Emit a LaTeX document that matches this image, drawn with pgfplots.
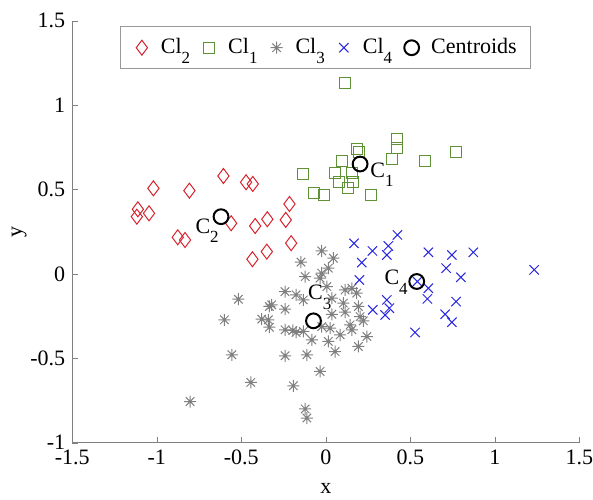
\documentclass[border=0pt]{standalone}
\usepackage{fontspec}
\setmainfont{Liberation Serif}
\usepackage{pgfplots}
\pgfplotsset{compat=1.18}
\usetikzlibrary{plotmarks}

\definecolor{clred}{RGB}{215,35,45}
\definecolor{clgreen}{RGB}{95,145,55}
\definecolor{clgray}{RGB}{128,128,128}
\definecolor{clblue}{RGB}{40,40,225}

% matlab style asterisk: plus and cross on top of each other
\pgfdeclareplotmark{mstar}{%
  \pgfpathmoveto{\pgfqpoint{-\pgfplotmarksize}{0pt}}%
  \pgfpathlineto{\pgfqpoint{\pgfplotmarksize}{0pt}}%
  \pgfpathmoveto{\pgfqpoint{0pt}{-\pgfplotmarksize}}%
  \pgfpathlineto{\pgfqpoint{0pt}{\pgfplotmarksize}}%
  \pgfpathmoveto{\pgfqpoint{-.7071\pgfplotmarksize}{-.7071\pgfplotmarksize}}%
  \pgfpathlineto{\pgfqpoint{.7071\pgfplotmarksize}{.7071\pgfplotmarksize}}%
  \pgfpathmoveto{\pgfqpoint{-.7071\pgfplotmarksize}{.7071\pgfplotmarksize}}%
  \pgfpathlineto{\pgfqpoint{.7071\pgfplotmarksize}{-.7071\pgfplotmarksize}}%
  \pgfusepathqstroke}

\newcommand{\fs}{\fontsize{11}{13}\selectfont}
\newcommand{\sub}[1]{\raisebox{-0.42em}{\fontsize{8.5}{9}\selectfont #1}}

\begin{document}
\begin{tikzpicture}
\begin{axis}[
    scale only axis, width=253.5pt, height=211pt,
    xmin=-1.5, xmax=1.5, ymin=-1, ymax=1.5,
    axis lines=left, axis line style={-, draw=black!50},
    tick style={draw=black!50}, tick align=inside, major tick length=3pt,
    xtick={-1.5,-1,-0.5,0,0.5,1,1.5},
    xticklabels={-1.5,-1,-0.5,0,0.5,1,1.5},
    ytick={-1,-0.5,0,0.5,1,1.5},
    yticklabels={-1,-0.5,0,0.5,1,1.5},
    ticklabel style={font=\fs},
    xlabel={x}, ylabel={y}, label style={font=\fs},
    xlabel shift=2.5pt, ylabel shift=-5pt,
    legend style={at={(0.5,0.987)}, anchor=north, draw=black!40,
      font=\fs, inner sep=4pt, legend columns=-1,
      nodes={inner ysep=2pt, inner xsep=3pt}},
    legend image code/.code={%
      \path (0cm,0cm) (0.44cm,0cm);
      \draw[mark repeat=2,mark phase=2,#1] plot coordinates {(0cm,0cm)(0.22cm,0cm)(0.44cm,0cm)};},
    clip=false,
  ]

  \addplot[only marks, mark=diamond, mark size=3.75pt, clred, line width=0.5pt] coordinates {
    (-1.020,0.507) (-0.807,0.493) (-0.606,0.580) (-0.472,0.543) (-0.432,0.533)
    (-1.112,0.383) (-1.118,0.339) (-1.046,0.359) (-0.215,0.414) (-0.237,0.320)
    (-0.346,0.324) (-0.418,0.284) (-0.560,0.300) (-0.876,0.217) (-0.833,0.201)
    (-0.434,0.087) (-0.349,0.132) (-0.205,0.182)
  };
  \addlegendentry{Cl\sub{2}}

  \addplot[only marks, mark=square, mark size=2.75pt, clgreen, line width=0.5pt] coordinates {
    (0.114,1.128) (0.420,0.797) (0.420,0.744) (0.187,0.738) (0.197,0.724)
    (0.771,0.720) (0.391,0.679) (0.588,0.671) (0.095,0.671) (-0.133,0.592)
    (0.055,0.600) (0.154,0.600) (0.080,0.546) (0.163,0.546) (0.134,0.511)
    (-0.069,0.481) (-0.010,0.467) (0.268,0.467)
  };
  \addlegendentry{Cl\sub{1}}

  \addplot[only marks, mark=mstar, mark size=3pt, clgray, line width=0.5pt] coordinates {
    (-0.517,-0.150) (-0.600,-0.272) (-0.556,-0.479) (-0.444,-0.643) (-0.803,-0.756)
    (-0.241,-0.105) (-0.176,-0.124) (-0.320,-0.183) (-0.334,-0.193) (-0.241,-0.209)
    (-0.379,-0.268) (-0.340,-0.272) (-0.334,-0.316) (-0.241,-0.331) (-0.195,-0.335)
    (-0.176,-0.347) (-0.241,-0.485) (-0.192,-0.663) (-0.147,0.070) (-0.024,0.136)
    (0.045,0.093) (-0.122,-0.016) (-0.024,0.004) (0.015,0.034) (-0.034,-0.025)
    (0.006,-0.075) (-0.133,-0.154) (0.036,-0.144) (0.114,-0.095) (0.154,-0.085)
    (0.183,-0.114) (0.104,-0.173) (0.193,-0.193) (0.036,-0.239) (0.114,-0.227)
    (0.203,-0.253) (0.222,-0.278) (0.144,-0.302) (-0.024,-0.312) (0.025,-0.321)
    (0.085,-0.361) (-0.083,-0.391) (0.015,-0.400) (0.154,-0.331) (0.243,-0.371)
    (0.193,-0.430) (0.055,-0.460) (-0.112,-0.479) (-0.034,-0.578) (-0.122,-0.800)
    (-0.112,-0.854) (-0.133,-0.341)
  };
  \addlegendentry{Cl\sub{3}}

  \addplot[only marks, mark=x, mark size=3.3pt, clblue, line width=0.5pt] coordinates {
    (0.167,0.181) (0.276,0.136) (0.370,0.166) (0.424,0.231) (0.361,0.112)
    (0.213,0.067) (0.607,0.128) (0.746,0.112) (0.873,0.128) (0.712,0.034)
    (0.799,-0.020) (1.233,0.024) (0.199,-0.036) (0.542,-0.045) (0.607,-0.085)
    (0.601,-0.148) (0.361,-0.154) (0.376,-0.203) (0.278,-0.213) (0.351,-0.243)
    (0.771,-0.164) (0.706,-0.239) (0.746,-0.286) (0.528,-0.347)
  };
  \addlegendentry{Cl\sub{4}}

  \addplot[only marks, mark=o, mark size=3.7pt, black, line width=1pt] coordinates {
    (0.203,0.651) (-0.620,0.339) (-0.073,-0.278) (0.538,-0.045)
  };
  \addlegendentry{Centroids}

  \node[anchor=base west, inner sep=0pt, font=\fs] at (axis cs:0.262,0.57) {C\sub{1}};
  \node[anchor=base west, inner sep=0pt, font=\fs] at (axis cs:-0.773,0.241) {C\sub{2}};
  \node[anchor=base west, inner sep=0pt, font=\fs] at (axis cs:-0.107,-0.154) {C\sub{3}};
  \node[anchor=base west, inner sep=0pt, font=\fs] at (axis cs:0.345,-0.065) {C\sub{4}};

  \coordinate (bl) at (rel axis cs:0,0);
  \coordinate (tr) at (rel axis cs:1,1);
\end{axis}
\pgfresetboundingbox
\path (bl) ++(-36.15pt,-28.15pt) coordinate (p1);
\path (tr) ++(6.85pt,10.35pt) coordinate (p2);
\path[use as bounding box] (p1) rectangle (p2);
\end{tikzpicture}
\end{document}
